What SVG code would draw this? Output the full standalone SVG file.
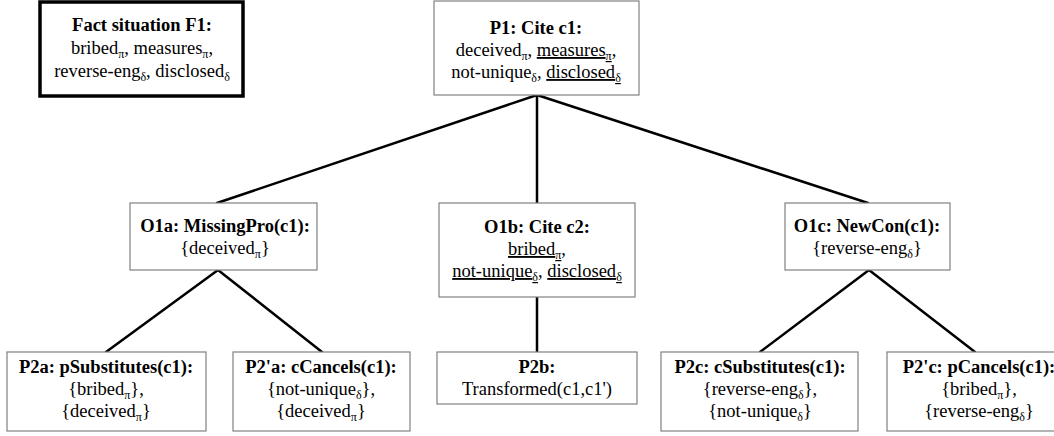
<svg xmlns="http://www.w3.org/2000/svg" width="1054" height="436" viewBox="0 0 1054 436">
<style>
text{font-family:"Liberation Serif","Times New Roman",serif;font-size:18.5px;fill:#000;text-anchor:middle}
.b{font-weight:bold}
.s{font-size:12px}
.u{text-decoration:underline}
.box{fill:#fff;stroke:#808080;stroke-width:1.2}
.fact{fill:#fff;stroke:#000;stroke-width:3.5}
.c line{stroke:#000;stroke-width:2.5;stroke-linecap:round}
</style>
<rect width="1054" height="436" fill="#fff"/>
<g class="c" id="connectors">
<line x1="537" y1="95" x2="217" y2="203"/>
<line x1="537" y1="95" x2="537" y2="203"/>
<line x1="537" y1="95" x2="868" y2="203"/>
<line x1="218" y1="270" x2="106" y2="352"/>
<line x1="218" y1="270" x2="322" y2="352"/>
<line x1="537" y1="297" x2="537" y2="352"/>
<line x1="869" y1="270" x2="760" y2="352"/>
<line x1="869" y1="270" x2="975" y2="352"/>
</g>
<g id="F1">
<rect class="fact" x="40" y="2" width="203" height="94"/>
<text x="142" y="31" class="b">Fact situation F1:</text>
<text x="142" y="54">bribed<tspan class="s" baseline-shift="-4">π</tspan>, measures<tspan class="s" baseline-shift="-4">π</tspan>,</text>
<text x="142" y="77">reverse-eng<tspan class="s" baseline-shift="-4">δ</tspan>, disclosed<tspan class="s" baseline-shift="-4">δ</tspan></text>
</g>
<g id="P1">
<rect class="box" x="434" y="1" width="205" height="94"/>
<text x="536" y="34" class="b">P1: Cite c1:</text>
<text x="536" y="56">deceived<tspan class="s" baseline-shift="-4">π</tspan>, <tspan class="u">measures<tspan class="s" baseline-shift="-4">π</tspan></tspan>,</text>
<text x="536" y="78">not-unique<tspan class="s" baseline-shift="-4">δ</tspan>, <tspan class="u">disclosed<tspan class="s" baseline-shift="-4">δ</tspan></tspan></text>
</g>
<g id="O1a">
<rect class="box" x="130" y="203" width="187" height="67"/>
<text x="225" y="232" class="b">O1a: MissingPro(c1):</text>
<text x="225" y="254">{deceived<tspan class="s" baseline-shift="-4">π</tspan>}</text>
</g>
<g id="O1b">
<rect class="box" x="439" y="203" width="196" height="94"/>
<text x="537" y="233" class="b">O1b: Cite c2:</text>
<text x="537" y="255"><tspan class="u">bribed<tspan class="s" baseline-shift="-4">π</tspan></tspan>,</text>
<text x="537" y="277"><tspan class="u">not-unique<tspan class="s" baseline-shift="-4">δ</tspan></tspan>, <tspan class="u">disclosed<tspan class="s" baseline-shift="-4">δ</tspan></tspan></text>
</g>
<g id="O1c">
<rect class="box" x="785" y="203" width="165" height="67"/>
<text x="867" y="232" class="b">O1c: NewCon(c1):</text>
<text x="867" y="254">{reverse-eng<tspan class="s" baseline-shift="-4">δ</tspan>}</text>
</g>
<g id="P2a">
<rect class="box" x="7" y="352" width="199" height="79"/>
<text x="106" y="373" class="b">P2a: pSubstitutes(c1):</text>
<text x="106" y="395">{bribed<tspan class="s" baseline-shift="-4">π</tspan>},</text>
<text x="106" y="417">{deceived<tspan class="s" baseline-shift="-4">π</tspan>}</text>
</g>
<g id="P2pa">
<rect class="box" x="233" y="352" width="177" height="79"/>
<text x="321" y="373" class="b">P2'a: cCancels(c1):</text>
<text x="321" y="395">{not-unique<tspan class="s" baseline-shift="-4">δ</tspan>},</text>
<text x="321" y="417">{deceived<tspan class="s" baseline-shift="-4">π</tspan>}</text>
</g>
<g id="P2b">
<rect class="box" x="437" y="352" width="200" height="52"/>
<text x="537" y="373" class="b">P2b:</text>
<text x="537" y="395">Transformed(c1,c1')</text>
</g>
<g id="P2c">
<rect class="box" x="661" y="352" width="197" height="79"/>
<text x="760" y="373" class="b">P2c: cSubstitutes(c1):</text>
<text x="760" y="395">{reverse-eng<tspan class="s" baseline-shift="-4">δ</tspan>},</text>
<text x="760" y="417">{not-unique<tspan class="s" baseline-shift="-4">δ</tspan>}</text>
</g>
<g id="P2pc">
<rect class="box" x="887" y="352" width="186" height="79"/>
<text x="979" y="373" class="b">P2'c: pCancels(c1):</text>
<text x="979" y="395">{bribed<tspan class="s" baseline-shift="-4">π</tspan>},</text>
<text x="979" y="417">{reverse-eng<tspan class="s" baseline-shift="-4">δ</tspan>}</text>
</g>
</svg>
